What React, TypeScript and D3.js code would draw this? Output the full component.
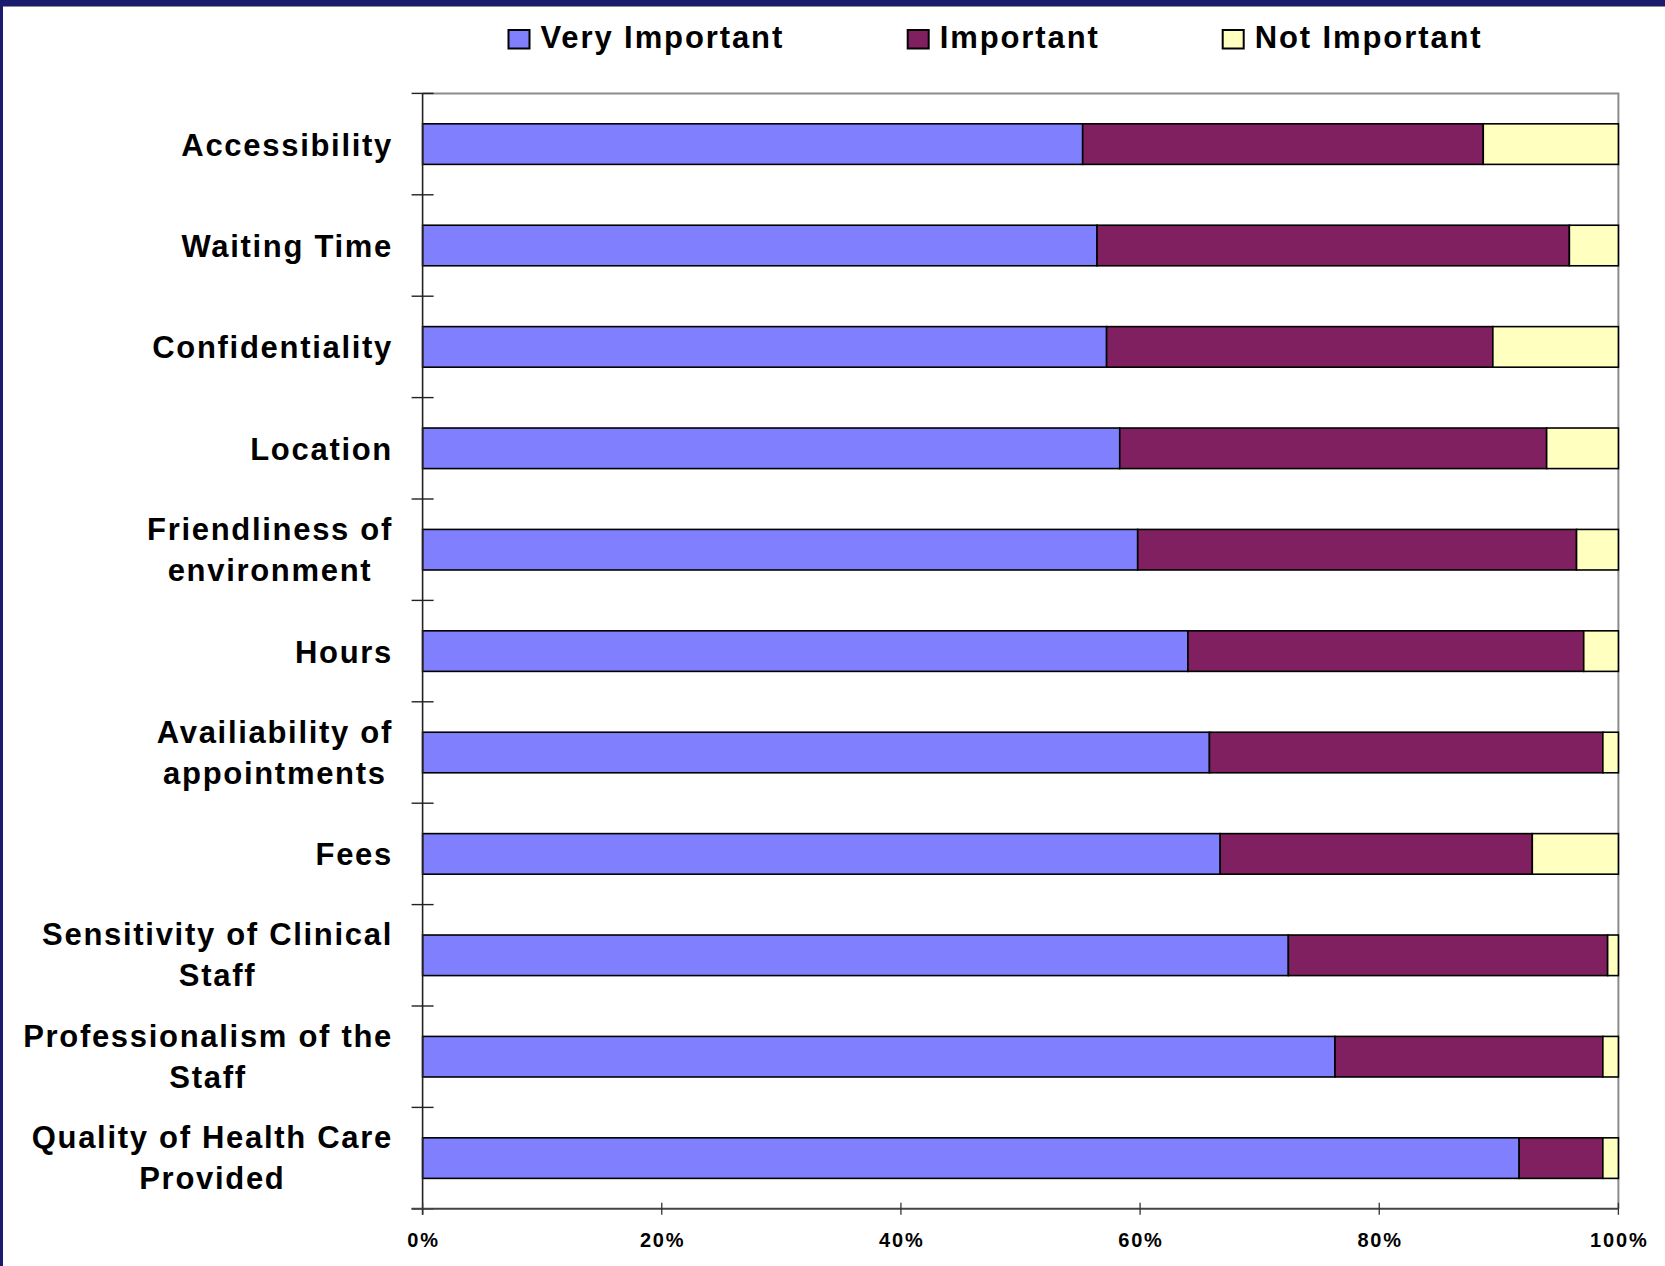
import React, { useEffect, useRef } from "react";
import * as d3 from "d3";

// ---- data ----
const categories = [
  "Accessibility",
  "Waiting Time",
  "Confidentiality",
  "Location",
  "Friendliness of\nenvironment",
  "Hours",
  "Availiability of\nappointments",
  "Fees",
  "Sensitivity of Clinical\nStaff",
  "Professionalism of the\nStaff",
  "Quality of Health Care\nProvided",
];
const seriesNames = ["Very Important", "Important", "Not Important"];
const veryImportant = [55.2, 56.4, 57.2, 58.3, 59.8, 64.0, 65.8, 66.7, 72.4, 76.3, 91.7];
const important = [33.5, 39.5, 32.3, 35.7, 36.7, 33.1, 32.9, 26.1, 26.7, 22.4, 7.0];
const notImportant = [11.3, 4.1, 10.5, 6.0, 3.5, 2.9, 1.3, 7.2, 0.9, 1.3, 1.3];
const xTicks = [0, 20, 40, 60, 80, 100];

// ---- layout / style ----
const W = 1665;
const H = 1266;
const PLOT = { left: 422.6, right: 1618.4, top: 93.4, bottom: 1208.8 };
const COLORS = ["#8080FF", "#802060", "#FFFFC0"];
const LEGEND_X = [507.5, 906.7, 1221.7];
const FONT = "'Liberation Sans', Arial, Helvetica, sans-serif";

export default function App() {
  const ref = useRef<SVGSVGElement | null>(null);

  useEffect(() => {
    const svg = d3.select(ref.current);
    svg.selectAll("*").remove();

    // frame
    svg.append("rect").attr("x", 0).attr("y", 0).attr("width", W).attr("height", H).attr("fill", "#ffffff");
    svg.append("rect").attr("x", 0).attr("y", 0).attr("width", W).attr("height", 6).attr("fill", "#1c1c6e");
    svg.append("line").attr("x1", 0).attr("x2", W).attr("y1", 6.5).attr("y2", 6.5).attr("stroke", "#8a8a9a").attr("stroke-width", 1);
    svg.append("rect").attr("x", 0).attr("y", 0).attr("width", 3).attr("height", H).attr("fill", "#1c1c6e");

    const rows = categories.map((c, i) => ({
      cat: c,
      [seriesNames[0]]: veryImportant[i],
      [seriesNames[1]]: important[i],
      [seriesNames[2]]: notImportant[i],
    }));

    const x = d3.scaleLinear().domain([0, 100]).range([PLOT.left, PLOT.right]);
    const y = d3
      .scaleBand<string>()
      .domain(categories)
      .range([PLOT.top, PLOT.bottom])
      .paddingInner(0.6)
      .paddingOuter(0.3);
    const step = y.step();

    // plot border (top, right) gray
    svg
      .append("path")
      .attr("d", `M${PLOT.left},${PLOT.top}H${PLOT.right}V${PLOT.bottom}`)
      .attr("fill", "none")
      .attr("stroke", "#8c8c8c")
      .attr("stroke-width", 2);

    // bars
    const stack = d3.stack<any>().keys(seriesNames);
    const series = stack(rows as any);
    series.forEach((s, si) => {
      svg
        .append("g")
        .selectAll("rect")
        .data(s)
        .join("rect")
        .attr("x", (d: any) => x(d[0]))
        .attr("y", (d: any) => y(d.data.cat)!)
        .attr("width", (d: any) => x(d[1]) - x(d[0]))
        .attr("height", y.bandwidth())
        .attr("fill", COLORS[si])
        .attr("stroke", "#000")
        .attr("stroke-width", 1.6);
    });

    // left axis
    svg
      .append("line")
      .attr("x1", PLOT.left)
      .attr("x2", PLOT.left)
      .attr("y1", PLOT.top)
      .attr("y2", PLOT.bottom + 6)
      .attr("stroke", "#222")
      .attr("stroke-width", 1.6);
    const yTickPos = d3.range(categories.length + 1).map((i) => PLOT.top + i * step);
    svg
      .append("g")
      .selectAll("line")
      .data(yTickPos)
      .join("line")
      .attr("x1", PLOT.left - 11)
      .attr("x2", PLOT.left + 11)
      .attr("y1", (d) => d)
      .attr("y2", (d) => d)
      .attr("stroke", "#222")
      .attr("stroke-width", 1.4);

    // bottom axis
    svg
      .append("line")
      .attr("x1", PLOT.left - 11)
      .attr("x2", PLOT.right)
      .attr("y1", PLOT.bottom)
      .attr("y2", PLOT.bottom)
      .attr("stroke", "#444")
      .attr("stroke-width", 2);
    svg
      .append("g")
      .selectAll("line")
      .data(xTicks)
      .join("line")
      .attr("x1", (d) => x(d))
      .attr("x2", (d) => x(d))
      .attr("y1", PLOT.bottom - 6)
      .attr("y2", PLOT.bottom + 6)
      .attr("stroke", "#333")
      .attr("stroke-width", 1.3);
    svg
      .append("g")
      .selectAll("text")
      .data(xTicks)
      .join("text")
      .attr("x", (d) => x(d) + 0.9)
      .attr("y", 1247.3)
      .attr("text-anchor", "middle")
      .attr("font-family", FONT)
      .attr("font-weight", "bold")
      .attr("font-size", 20)
      .attr("letter-spacing", 1.8)
      .attr("fill", "#000")
      .text((d) => `${d}%`);

    // category labels
    const labelRight = 393;
    categories.forEach((c) => {
      const lines = c.split("\n");
      const cy = (y(c) as number) + y.bandwidth() / 2;
      const g = svg.append("g");
      const texts = lines.map((ln, li) => {
        const base = lines.length === 1 ? cy + 11.4 : cy + 10.5 + (li === 0 ? -20.5 : 20.5);
        return g
          .append("text")
          .attr("x", 0)
          .attr("y", base)
          .attr("text-anchor", "middle")
          .attr("font-family", FONT)
          .attr("font-weight", "bold")
          .attr("font-size", 31)
          .attr("letter-spacing", 1.7)
          .attr("fill", "#000")
          .text(ln);
      });
      let maxW = 0;
      texts.forEach((t) => {
        const n = t.node() as SVGTextElement;
        maxW = Math.max(maxW, n.getComputedTextLength());
      });
      const cx = labelRight - maxW / 2;
      texts.forEach((t) => t.attr("x", cx));
    });

    // legend
    seriesNames.forEach((name, i) => {
      const lx = LEGEND_X[i];
      svg
        .append("rect")
        .attr("x", lx + 1)
        .attr("y", 30)
        .attr("width", 21)
        .attr("height", 18.5)
        .attr("fill", COLORS[i])
        .attr("stroke", "#000")
        .attr("stroke-width", 2);
      svg
        .append("text")
        .attr("x", lx + 33)
        .attr("y", 48.3)
        .attr("font-family", FONT)
        .attr("font-weight", "bold")
        .attr("font-size", 31)
        .attr("letter-spacing", 1.9)
        .attr("fill", "#000")
        .text(name);
    });
  }, []);

  return (
    <svg
      ref={ref}
      width={W}
      height={H}
      style={{ position: "absolute", left: 0, top: 0, display: "block" }}
    />
  );
}
